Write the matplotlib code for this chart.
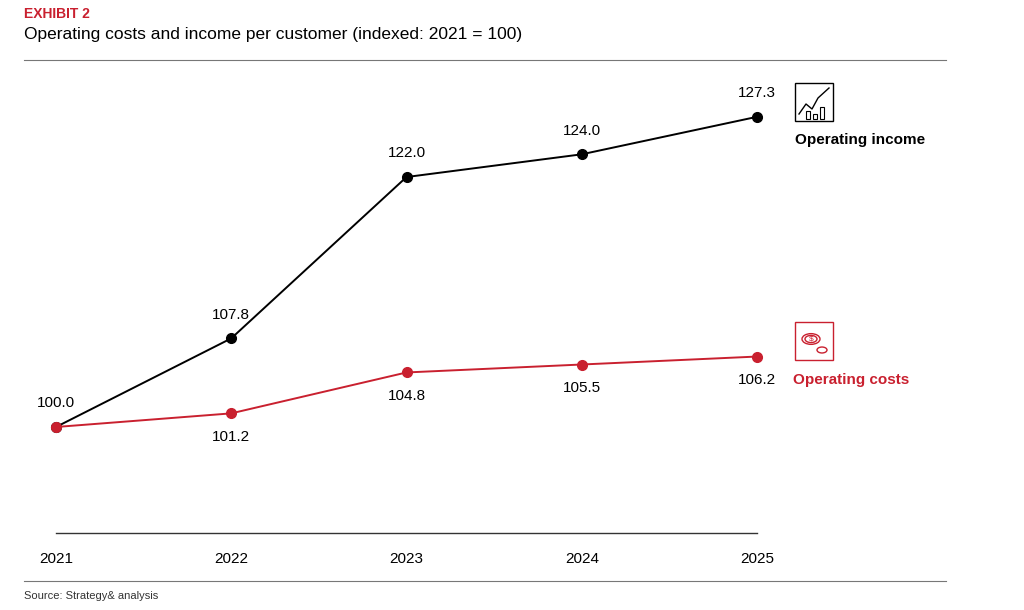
import matplotlib
matplotlib.use("Agg")
import matplotlib.pyplot as plt
from matplotlib.lines import Line2D
from matplotlib.patches import Rectangle, Circle

years = [2021, 2022, 2023, 2024, 2025]
income = [100.0, 107.8, 122.0, 124.0, 127.3]
costs = [100.0, 101.2, 104.8, 105.5, 106.2]
RED = "#c9202f"

W, H = 1024, 610
fig = plt.figure(figsize=(W/100, H/100), dpi=100)
plt.rcParams['font.family'] = ['Liberation Sans', 'DejaVu Sans']

def fx(px): return px / W
def fy(py): return 1 - py / H

ax = fig.add_axes([fx(56), fy(533), fx(757) - fx(56), fy(60) - fy(533)])
ax.set_xlim(2021, 2025)
ax.set_ylim(90.67, 132.3)
for s in ["top", "right", "left"]:
    ax.spines[s].set_visible(False)
ax.spines["bottom"].set_color("#333333")
ax.spines["bottom"].set_linewidth(1)
ax.set_yticks([])
ax.set_xticks(years)
ax.set_xticklabels([str(y) for y in years], fontsize=11)
ax.tick_params(axis="x", length=0, pad=14)

ax.plot(years, income, color="black", lw=1.4, marker="o", ms=7, clip_on=False, zorder=3)
ax.plot(years, costs, color=RED, lw=1.4, marker="o", ms=7, clip_on=False, zorder=3)

for i, (x, v) in enumerate(zip(years, income)):
    ax.annotate(f"{v:.1f}", (x, v), xytext=(0, 12), textcoords="offset points",
                ha="center", va="bottom", fontsize=11)
for i, (x, v) in enumerate(zip(years, costs)):
    if i == 0:
        continue
    ax.annotate(f"{v:.1f}", (x, v), xytext=(0, -12), textcoords="offset points",
                ha="center", va="top", fontsize=11)

fig.text(fx(24), fy(14), "EXHIBIT 2", color=RED, fontsize=10, fontweight="bold", va="center")
fig.text(fx(24), fy(35), "Operating costs and income per customer (indexed: 2021 = 100)",
         fontsize=12.5, va="center")
fig.add_artist(Line2D([fx(24), fx(946)], [fy(60), fy(60)], color="#777777", lw=0.8))
fig.add_artist(Line2D([fx(24), fx(946)], [fy(581), fy(581)], color="#777777", lw=0.8))
fig.text(fx(24), fy(596), "Source: Strategy& analysis", fontsize=8, va="center", color="#333333")

fig.text(fx(795), fy(140), "Operating income", fontsize=11, fontweight="bold", va="center")
fig.text(fx(793), fy(380), "Operating costs", fontsize=11, fontweight="bold", va="center", color=RED)

# icons
fig.add_artist(Rectangle((fx(795), fy(121)), fx(38), fy(83) - fy(121), fill=False, ec="black", lw=1))
xs = [799, 806, 812, 818, 829]; ys = [114, 104, 109, 98, 88]
fig.add_artist(Line2D([fx(v) for v in xs], [fy(v) for v in ys], color="black", lw=1))
for bx, bh in [(806, 8), (813, 5), (820, 12)]:
    fig.add_artist(Rectangle((fx(bx), fy(119)), fx(4), fy(119 - bh) - fy(119), fill=False, ec="black", lw=0.8))
fig.add_artist(Rectangle((fx(795), fy(360)), fx(38), fy(322) - fy(360), fill=False, ec=RED, lw=1))
fig.add_artist(Circle((fx(811), fy(339)), 9/W, transform=fig.transFigure, fill=False, ec=RED, lw=1))
fig.add_artist(Circle((fx(811), fy(339)), 6/W, transform=fig.transFigure, fill=False, ec=RED, lw=1))
fig.text(fx(811), fy(339), "$", fontsize=6, color=RED, ha="center", va="center")
fig.add_artist(Circle((fx(822), fy(350)), 5/W, transform=fig.transFigure, fill=False, ec=RED, lw=1))

fig.savefig("out.png", dpi=100, facecolor="white")
